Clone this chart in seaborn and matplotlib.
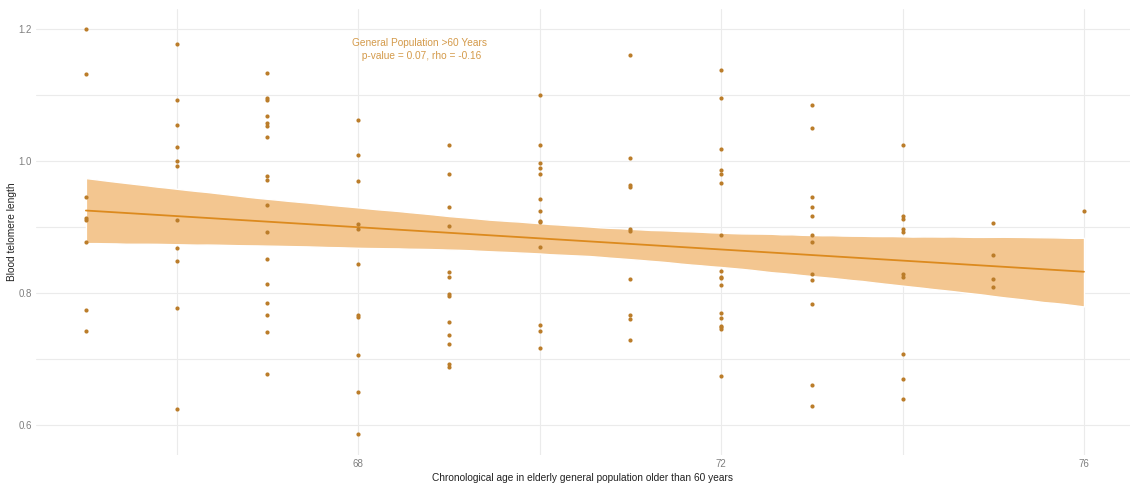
import numpy as np
import pandas as pd
import matplotlib.pyplot as plt
import seaborn as sns
from matplotlib.ticker import MultipleLocator

# telomere length read per age column
age_65 = [1.200, 1.132, 0.946, 0.913, 0.911, 0.877, 0.774, 0.743]
age_66 = [1.178, 1.093, 1.055, 1.022, 1.000, 0.992, 0.911, 0.868, 0.848, 0.778, 0.625]
age_67 = [1.133, 1.095, 1.092, 1.068, 1.057, 1.053, 1.037, 0.977, 0.972, 0.933,
          0.892, 0.852, 0.813, 0.785, 0.767, 0.741, 0.677]
age_68 = [1.062, 1.009, 0.969, 0.905, 0.897, 0.844, 0.767, 0.763, 0.706, 0.650, 0.586]
age_69 = [1.024, 0.980, 0.931, 0.902, 0.832, 0.825, 0.798, 0.795, 0.756, 0.737,
          0.723, 0.692, 0.688]
age_70 = [1.100, 1.024, 0.997, 0.989, 0.980, 0.942, 0.925, 0.909, 0.907, 0.869,
          0.752, 0.743, 0.716]
age_71 = [1.161, 1.004, 0.964, 0.961, 0.897, 0.894, 0.822, 0.767, 0.760, 0.729]
age_72 = [1.138, 1.095, 1.019, 0.987, 0.981, 0.967, 0.888, 0.833, 0.825, 0.823,
          0.812, 0.769, 0.762, 0.750, 0.748, 0.746, 0.674]
age_73 = [1.085, 1.050, 0.946, 0.930, 0.916, 0.888, 0.878, 0.829, 0.819, 0.784,
          0.661, 0.629]
age_74 = [1.025, 0.917, 0.912, 0.897, 0.892, 0.829, 0.824, 0.707, 0.670, 0.640]
age_75 = [0.906, 0.857, 0.821, 0.809]
age_76 = [0.924]

columns = {65: age_65, 66: age_66, 67: age_67, 68: age_68, 69: age_69, 70: age_70,
           71: age_71, 72: age_72, 73: age_73, 74: age_74, 75: age_75, 76: age_76}

df = pd.DataFrame([(a, v) for a, vals in columns.items() for v in vals],
                  columns=['age', 'telomere'])

annot = 'General Population >60 Years\n p-value = 0.07, rho = -0.16'

sns.set_style('white')
plt.rcParams['font.family'] = ['Liberation Sans', 'DejaVu Sans']

fig = plt.figure(figsize=(11.3, 4.87), dpi=100)
ax = fig.add_axes([36 / 1130, 32.3 / 487, 1094 / 1130, 446.1 / 487])

sns.regplot(data=df, x='age', y='telomere', ax=ax, ci=95, seed=3, n_boot=2000,
            scatter_kws={'s': 9, 'color': '#BB7D2A', 'alpha': 1, 'linewidths': 0, 'zorder': 4},
            line_kws={'color': '#DC8A1E', 'lw': 1.3, 'zorder': 3})
# solid band like the reference
for coll in ax.collections[1:]:
    coll.set_facecolor('#F3C690')
    coll.set_alpha(1)
    coll.set_zorder(2)

ax.set_xlim(64.45, 76.507)
ax.set_ylim(0.555, 1.231)
ax.xaxis.set_minor_locator(MultipleLocator(2))
ax.yaxis.set_minor_locator(MultipleLocator(0.1))
ax.set_xticks([68, 72, 76])
ax.set_xticklabels(['68', '72', '76'])
ax.set_yticks([0.6, 0.8, 1.0, 1.2])
ax.set_yticklabels(['0.6', '0.8', '1.0', '1.2'])
ax.grid(True, which='both', color='#EBEBEB', lw=0.8)
ax.set_axisbelow(True)
for s in ax.spines.values():
    s.set_visible(False)
ax.tick_params(which='both', length=0, labelsize=7, labelcolor='#7F7F7F', pad=3)

ax.set_xlabel('Chronological age in elderly general population older than 60 years',
              fontsize=7.3, color='#222222', labelpad=3)
ax.set_ylabel('Blood telomere length', fontsize=7.3, color='#222222', labelpad=1)

ax.text(68.68, 1.169, annot, ha='center', va='center', fontsize=7.3,
        color='#D49A4A', linespacing=1.4)

fig.savefig('out.png', dpi=100)
